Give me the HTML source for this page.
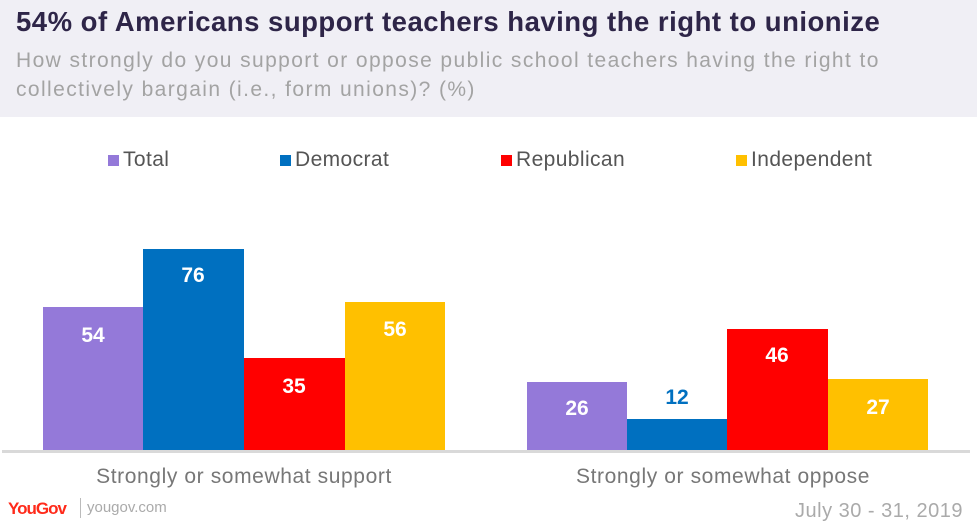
<!DOCTYPE html>
<html><head><meta charset="utf-8"><style>
body{margin:0;width:977px;height:525px;background:#fff;font-family:"Liberation Sans",sans-serif;position:relative;overflow:hidden}
.hdr{position:absolute;left:0;top:0;width:977px;height:117px;background:#f0eff5}
.t{position:absolute;left:16px;top:6px;font-size:27.5px;font-weight:bold;color:#2e2548;letter-spacing:0.5px;white-space:nowrap}
.s{position:absolute;left:16px;top:46px;font-size:21px;color:#a3a3a3;line-height:29px;letter-spacing:1.4px;white-space:nowrap}
.a{position:absolute}
.bar{position:absolute}
.lb{position:absolute;width:100px;text-align:center;font-weight:bold;font-size:21px;color:#fff}
.leg{position:absolute;top:148px;font-size:21px;color:#555;letter-spacing:0.4px}
.leg i{display:inline-block;width:11px;height:11px;margin-right:4px}
.cat{position:absolute;top:465px;font-size:21px;color:#777;text-align:center;width:420px;letter-spacing:0.6px}
</style></head><body>
<div class="hdr"></div>
<div class="t">54% of Americans support teachers having the right to unionize</div>
<div class="s">How strongly do you support or oppose public school teachers having the right to<br>collectively bargain (i.e., form unions)? (%)</div>
<div class="leg" style="left:108px"><i style="background:#9479d9"></i>Total</div>
<div class="leg" style="left:280px"><i style="background:#0070c0"></i>Democrat</div>
<div class="leg" style="left:501px"><i style="background:#ff0000"></i>Republican</div>
<div class="leg" style="left:736px"><i style="background:#ffc000"></i>Independent</div>

<div class="bar" style="left:43px;width:100px;top:307px;height:145px;background:#9479d9"></div>
<div class="bar" style="left:143px;width:101px;top:249px;height:203px;background:#0070c0"></div>
<div class="bar" style="left:244px;width:101px;top:358px;height:94px;background:#ff0000"></div>
<div class="bar" style="left:345px;width:100px;top:302px;height:150px;background:#ffc000"></div>
<div class="bar" style="left:527px;width:100px;top:382px;height:70px;background:#9479d9"></div>
<div class="bar" style="left:627px;width:100px;top:419px;height:33px;background:#0070c0"></div>
<div class="bar" style="left:727px;width:101px;top:329px;height:123px;background:#ff0000"></div>
<div class="bar" style="left:828px;width:100px;top:379px;height:73px;background:#ffc000"></div>

<div class="lb" style="left:43px;top:324px">54</div>
<div class="lb" style="left:143px;top:264px">76</div>
<div class="lb" style="left:244px;top:375px">35</div>
<div class="lb" style="left:345px;top:318px">56</div>
<div class="lb" style="left:527px;top:397px">26</div>
<div class="lb" style="left:627px;top:386px;color:#0070c0">12</div>
<div class="lb" style="left:727px;top:344px">46</div>
<div class="lb" style="left:828px;top:396px">27</div>

<div class="a" style="left:2px;top:450px;width:968px;height:3px;background:#d9d9d9"></div>
<div class="cat" style="left:34px">Strongly or somewhat support</div>
<div class="cat" style="left:513px">Strongly or somewhat oppose</div>
<div class="a" style="left:8px;top:499px;font-size:17px;font-weight:bold;color:#ff2a1a;letter-spacing:-1px">YouGov</div>
<div class="a" style="left:80px;top:498px;width:1px;height:20px;background:#bbb"></div>
<div class="a" style="left:87px;top:499px;font-size:15px;color:#aaa">yougov.com</div>
<div class="a" style="right:14px;top:500px;font-size:20px;color:#aaa;letter-spacing:0.5px">July 30 - 31, 2019</div>
</body></html>
